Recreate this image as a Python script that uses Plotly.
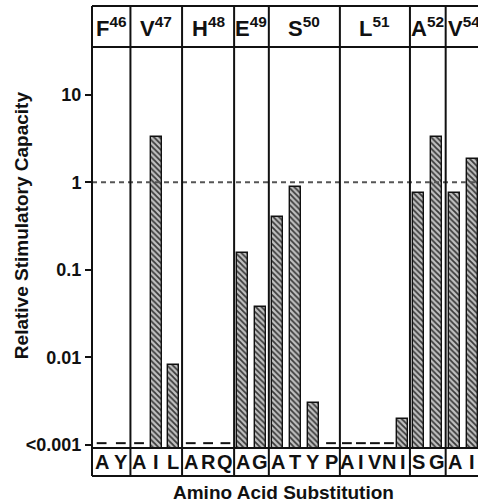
import plotly.graph_objects as go

# ---- data ----
residues = ["F", "V", "H", "E", "S", "L", "A", "V"]
positions = [46, 47, 48, 49, 50, 51, 52, 54]
substitutions = [["A", "Y"], ["A", "I", "L"], ["A", "R", "Q"], ["A", "G"],
                 ["A", "T", "Y", "P"], ["A", "I", "V", "N", "I"], ["S", "G"], ["A", "I"]]
# None = below detection (<0.001)
capacity = [[None, None], [None, 3.3, 0.0081], [None, None, None], [0.155, 0.038],
            [0.40, 0.88, 0.0030, None], [None, None, None, None, 0.0020],
            [0.75, 3.3], [0.75, 1.85]]
tick_vals = [0.001, 0.01, 0.1, 1, 10]
tick_text = ["&lt;0.001", "0.01", "0.1", "1", "10"]

# ---- layout constants ----
W, H = 478, 504
ML, MT, MB = 92.3, 47, 56
group_widths = [38.4, 51.6, 52.0, 34.7, 71.0, 70.0, 35.7, 35.7]
XMAX = W - ML
PH = H - MT - MB
bar_w = 11
FONT = "Liberation Sans, Arial, sans-serif"

def py(px_y):  # pixel y -> paper y
    return (H - MB - px_y) / PH

bx, by, dx, lab_x, lab_t = [], [], [], [], []
bounds = [0]
start = 0
for g, (subs, vals) in enumerate(zip(substitutions, capacity)):
    w = group_widths[g]
    n = len(subs)
    for i, (s, v) in enumerate(zip(subs, vals)):
        c = start + (i + 0.5) * w / n
        lab_x.append(c)
        lab_t.append(s)
        if v is None:
            dx.append(c)
        else:
            bx.append(c)
            by.append(v)
    start += w
    bounds.append(start)

fig = go.Figure()
fig.add_trace(go.Bar(
    x=bx, y=by, width=bar_w,
    marker=dict(color="#b5b5b5", line=dict(color="#111", width=1.4),
                pattern=dict(shape="\\", fgcolor="#3a3a3a", bgcolor="#c0c0c0",
                             size=4, solidity=0.45)),
    showlegend=False))
fig.add_trace(go.Scatter(
    x=dx, y=[0.00105] * len(dx), mode="markers",
    marker=dict(symbol="line-ew", size=7, line=dict(color="#111", width=2)),
    showlegend=False, cliponaxis=False))

shapes = []
# reference line at 1
shapes.append(dict(type="line", xref="paper", yref="y", x0=0, x1=1, y0=1, y1=1,
                   line=dict(color="#555", width=2, dash="5px,4px")))
top = py(6)
bot = py(476)
for b in bounds:
    xp = b / XMAX
    shapes.append(dict(type="line", xref="paper", yref="paper", x0=xp, x1=xp,
                       y0=bot, y1=top, line=dict(color="#111", width=2)))
for yy in [top, 1, 0, bot]:
    shapes.append(dict(type="line", xref="paper", yref="paper", x0=0, x1=1.2,
                       y0=yy, y1=yy, line=dict(color="#111", width=2)))

ann = []
for g in range(len(residues)):
    c = (bounds[g] + bounds[g + 1]) / 2
    ann.append(dict(x=c, y=py(27), xref="x", yref="paper", showarrow=False,
                    text=f"<b>{residues[g]}<sup>{positions[g]}</sup></b>",
                    font=dict(size=22, color="#111", family=FONT),
                    xanchor="center", yanchor="middle"))
for c, t in zip(lab_x, lab_t):
    ann.append(dict(x=c, y=py(462), xref="x", yref="paper", showarrow=False,
                    text=f"<b>{t}</b>", font=dict(size=20, color="#111", family=FONT),
                    xanchor="center", yanchor="middle"))
ann.append(dict(x=(284 - ML) / XMAX, y=py(492), xref="paper", yref="paper",
                showarrow=False, text="<b>Amino Acid Substitution</b>",
                font=dict(size=19, color="#111", family=FONT),
                xanchor="center", yanchor="middle"))
ann.append(dict(x=(22 - ML) / XMAX, y=py(225.5), xref="paper", yref="paper",
                showarrow=False, text="<b>Relative Stimulatory Capacity</b>", textangle=-90,
                font=dict(size=19, color="#111", family=FONT),
                xanchor="center", yanchor="middle"))

fig.update_layout(
    width=W, height=H, template="none",
    margin=dict(l=ML, r=0, t=MT, b=MB, pad=0),
    plot_bgcolor="white", paper_bgcolor="white",
    shapes=shapes, annotations=ann, bargap=0,
    xaxis=dict(range=[0, XMAX], showgrid=False, showticklabels=False, ticks="",
               zeroline=False, showline=False, automargin=False, fixedrange=True),
    yaxis=dict(type="log", range=[-3.034, 1.543], tickvals=tick_vals,
               ticktext=[f"<b>{t}</b>" for t in tick_text],
               ticks="outside", ticklen=6, tickwidth=1.5, tickcolor="#111",
               showgrid=False, zeroline=False, showline=False, automargin=False,
               tickfont=dict(size=18, color="#111", family=FONT)),
)
fig.write_html("out.html")
